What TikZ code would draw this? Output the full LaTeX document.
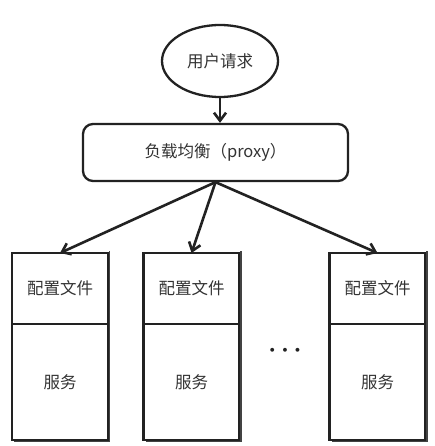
\documentclass[tikz,border=0pt]{standalone}
\usepackage{fontspec}
\newfontfamily\cjk{Noto Sans CJK SC}
\usetikzlibrary{shapes.geometric,arrows.meta}
\definecolor{ink}{HTML}{222222}
\definecolor{txt}{HTML}{333333}
\tikzset{
  every node/.style={font=\cjk\fontsize{16.5}{19}\selectfont, text=txt},
  ell/.style={ellipse, draw=ink, line width=2.3pt, minimum width=116pt, minimum height=72pt, inner sep=0pt},
  lbbox/.style={rectangle, rounded corners=10pt, draw=ink, line width=2.3pt, minimum width=265pt, minimum height=57pt},
  cfgbox/.style={rectangle, draw=ink, line width=2.3pt, outer sep=0pt, minimum width=96pt, minimum height=71pt, inner sep=0pt},
  svcbox/.style={rectangle, draw=ink, line width=2.3pt, outer sep=0pt, minimum width=96pt, minimum height=116pt, inner sep=0pt},
  conn/.style={draw=ink, line width=2.6pt, -{Straight Barb[length=8pt,width=12pt,line width=2.6pt]}},
  shade/.style={draw=ink!85, line width=1.6pt}
}
\begin{document}
\begin{tikzpicture}[x=1pt,y=-1pt]
\useasboundingbox[fill=white] (0,0) rectangle (435,446);
\node[ell] (req) at (220,61) {用户请求};
\node[lbbox] (lb) at (215.5,152.5) {负载均衡（proxy）};
% box 1
\node[cfgbox] (c1) at (60,288.5) {配置文件};
\node[svcbox,anchor=north] (s1) at (c1.south) {服务};
% box 2
\node[cfgbox] (c2) at (191.5,288.5) {配置文件};
\node[svcbox,anchor=north] (s2) at (c2.south) {服务};
% box 3
\node[cfgbox] (c3) at (377.5,288.5) {配置文件};
\node[svcbox,anchor=north] (s3) at (c3.south) {服务};
% shadow-like thick right/bottom edges
\foreach \b in {1,2,3}{
  \draw[shade] ([xshift=1.5pt,yshift=2pt]c\b.north east) -- ([xshift=1.5pt,yshift=-1.5pt]s\b.south east) -- ([xshift=2pt,yshift=-1.5pt]s\b.south west);
}
\node[font=\fontsize{24}{24}\selectfont\boldmath, text=ink] (dots) at (285,351) {$\cdots$};
% connectors
\draw[conn] (req.south) -- (req.south |- lb.north);
\draw[conn] (lb.south) -- (c1.north);
\draw[conn] (lb.south) -- (c2.north);
\draw[conn] (lb.south) -- (c3.north);
\end{tikzpicture}
\end{document}
